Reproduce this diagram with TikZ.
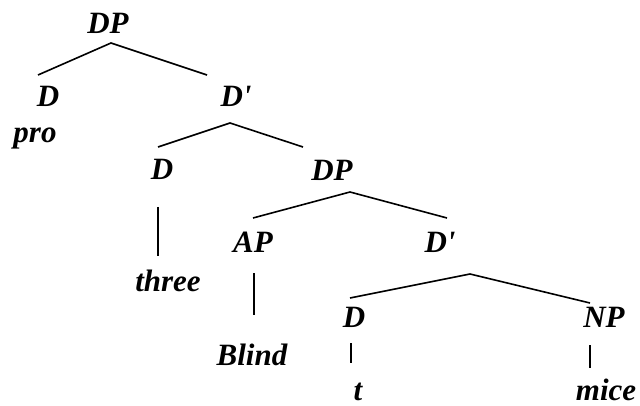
\documentclass[tikz,border=0pt]{standalone}
\usepackage{fontspec}
\setmainfont{Liberation Serif}[Ligatures=TeXOff]
\begin{document}
\begin{tikzpicture}[x=1pt,y=-1pt,
  lbl/.style={anchor=base,inner sep=0pt,font=\fontsize{31}{31}\selectfont\bfseries\itshape},
  edge/.style={line width=1.6pt}]
\useasboundingbox (0,0) rectangle (640,406);
% nodes
\node[lbl] (dp1) at (108,34) {DP};
\node[lbl] (d1) at (48,107) {D};
\node[lbl] (pro) at (35,143) {pro};
\node[lbl] (db1) at (236,107) {D'};
\node[lbl] (d2) at (162,180) {D};
\node[lbl] (three) at (168,291) {three};
\node[lbl] (dp2) at (332,181) {DP};
\node[lbl] (ap) at (253,253) {AP};
\node[lbl] (blind) at (252,365) {Blind};
\node[lbl] (db2) at (440,253) {D'};
\node[lbl] (d3) at (354,327) {D};
\node[lbl] (np) at (604,327) {NP};
\node[lbl] (t) at (358,400) {t};
\node[lbl] (mice) at (606,400) {mice};
% connector points
\coordinate (a1) at (111,43);
\coordinate (e1) at (38,75);
\coordinate (e2) at (207,75);
\coordinate (a2) at (230,123);
\coordinate (e3) at (158,147);
\coordinate (e4) at (303,147);
\coordinate (v1t) at (158,207);
\coordinate (v1b) at (158,256);
\coordinate (a3) at (350,192);
\coordinate (e5) at (253,218);
\coordinate (e6) at (447,218);
\coordinate (v2t) at (254,273);
\coordinate (v2b) at (254,315);
\coordinate (a4) at (470,274);
\coordinate (e7) at (350,298);
\coordinate (e8) at (590,303);
\coordinate (v3t) at (351,343);
\coordinate (v3b) at (351,363);
\coordinate (v4t) at (590,345);
\coordinate (v4b) at (590,368);
% connectors
\draw[edge] (e1) -- (a1) -- (e2);
\draw[edge] (e3) -- (a2) -- (e4);
\draw[edge] (v1t) -- (v1b);
\draw[edge] (e5) -- (a3) -- (e6);
\draw[edge] (v2t) -- (v2b);
\draw[edge] (e7) -- (a4) -- (e8);
\draw[edge] (v3t) -- (v3b);
\draw[edge] (v4t) -- (v4b);
\end{tikzpicture}
\end{document}
